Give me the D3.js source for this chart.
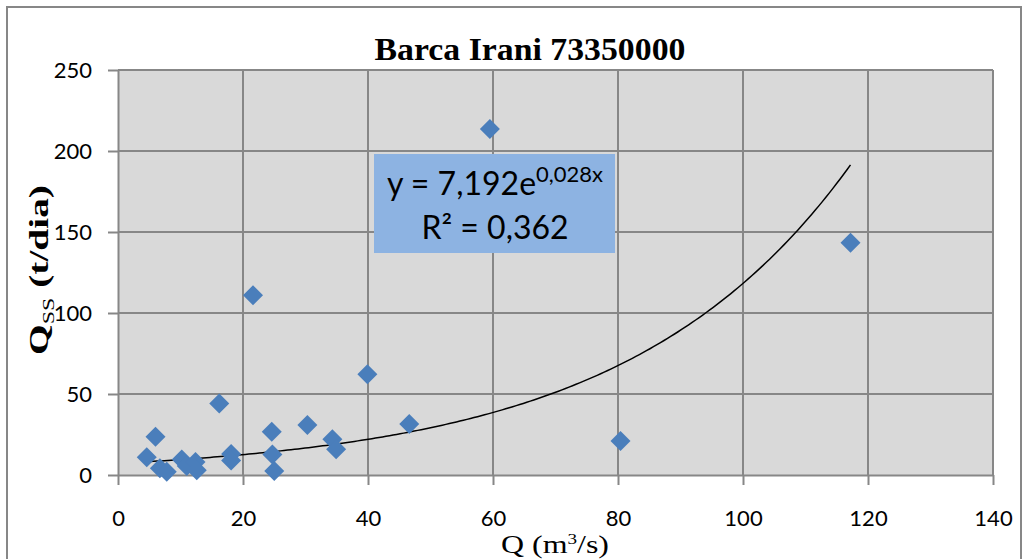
<!DOCTYPE html>
<html>
<head>
<meta charset="utf-8">
<script src="https://cdn.jsdelivr.net/npm/d3@7"></script>
<style>
  body { margin: 0; background: #ffffff; }
  svg { display: block; }
</style>
</head>
<body>
<svg id="chart" width="1030" height="559"></svg>
<script>
// ---- data ----
const chartTitle = "Barca Irani 73350000";
const dischargeQ = [4.6, 6.0, 6.7, 7.8, 10.2, 11.0, 12.4, 12.6, 16.2, 18.1, 18.1, 21.6,
                    24.6, 24.7, 25.0, 30.3, 34.3, 34.9, 39.9, 46.6, 59.5, 80.4, 117.2];
const sedimentQss = [10.9, 23.6, 4.1, 2.0, 9.5, 5.5, 8.0, 3.0, 44.2, 13.0, 9.0, 111.0,
                     26.7, 12.7, 2.5, 30.9, 22.0, 15.9, 62.2, 31.5, 213.6, 21.0, 143.4];
const xTickValues = [0, 20, 40, 60, 80, 100, 120, 140];
const yTickValues = [0, 50, 100, 150, 200, 250];
const trendA = 7.192;   // exponential trendline y = a * e^(b x)
const trendB = 0.028;
const trendR2 = 0.362;

// ---- layout ----
const svg = d3.select("#chart");
const plot = { left: 118, right: 993, top: 70, bottom: 475 };
const gridColor = "#878787";
const markerColor = "#4a7ebb";

const x = d3.scaleLinear().domain([0, 140]).range([plot.left, plot.right]);
const y = d3.scaleLinear().domain([0, 250]).range([plot.bottom, plot.top]);

const ptBr = d3.formatLocale({ decimal: ",", thousands: ".", grouping: [3], currency: ["", ""] });
const fmt3 = ptBr.format(".3f");

// outer chart border
svg.append("rect")
  .attr("x", 7).attr("y", 7).attr("width", 1014).attr("height", 620)
  .attr("fill", "#ffffff").attr("stroke", gridColor).attr("stroke-width", 2);

// plot background
svg.append("rect")
  .attr("x", plot.left).attr("y", plot.top)
  .attr("width", plot.right - plot.left).attr("height", plot.bottom - plot.top)
  .attr("fill", "#d9d9d9");

// gridlines
svg.append("g").selectAll("line").data(xTickValues.filter(d => d > 0)).join("line")
  .attr("x1", d => x(d)).attr("x2", d => x(d))
  .attr("y1", plot.top).attr("y2", plot.bottom)
  .attr("stroke", gridColor).attr("stroke-width", 2);
svg.append("g").selectAll("line").data(yTickValues.filter(d => d > 0)).join("line")
  .attr("x1", plot.left).attr("x2", plot.right)
  .attr("y1", d => y(d)).attr("y2", d => y(d))
  .attr("stroke", gridColor).attr("stroke-width", 2);

// axes
const tickFont = "Lato, 'Open Sans', sans-serif";
const yAxis = svg.append("g")
  .attr("transform", `translate(${plot.left},0)`)
  .call(d3.axisLeft(y).tickValues(yTickValues).tickSize(10).tickPadding(16).tickSizeOuter(0));
const xAxis = svg.append("g")
  .attr("transform", `translate(0,${plot.bottom})`)
  .call(d3.axisBottom(x).tickValues(xTickValues).tickSize(10).tickPadding(25).tickSizeOuter(0));
[yAxis, xAxis].forEach(g => {
  g.select(".domain").attr("stroke", gridColor).attr("stroke-width", 2);
  g.selectAll(".tick line").attr("stroke", gridColor).attr("stroke-width", 2);
  g.selectAll(".tick text").attr("fill", "#000").style("font-family", tickFont).style("font-size", "22px");
});

// trendline
const xExtent = d3.extent(dischargeQ);
const trendX = d3.range(0, 201).map(i => xExtent[0] + (xExtent[1] - xExtent[0]) * i / 200);
svg.append("path")
  .datum(trendX)
  .attr("fill", "none").attr("stroke", "#000").attr("stroke-width", 1.5)
  .attr("d", d3.line().x(d => x(d)).y(d => y(trendA * Math.exp(trendB * d))));

// data markers (diamonds)
const diamond = d3.symbol().type(d3.symbolSquare).size(200);
svg.append("g").selectAll("path").data(dischargeQ.map((q, i) => [q, sedimentQss[i]])).join("path")
  .attr("d", diamond)
  .attr("transform", d => `translate(${x(d[0])},${y(d[1])}) rotate(45)`)
  .attr("fill", markerColor);

// equation label
const eq = svg.append("g");
eq.append("rect")
  .attr("x", 374).attr("y", 154).attr("width", 241).attr("height", 99)
  .attr("fill", "#8db3e2");
const eqLine = eq.append("text")
  .attr("x", 495).attr("y", 195).attr("text-anchor", "middle")
  .style("font-family", tickFont).style("font-size", "32px").attr("fill", "#000");
eqLine.append("tspan").text(`y = ${fmt3(trendA)}e`);
eqLine.append("tspan").attr("dy", -13).style("font-size", "22px").text(`${fmt3(trendB)}x`);
eq.append("text")
  .attr("x", 495).attr("y", 239).attr("text-anchor", "middle")
  .style("font-family", tickFont).style("font-size", "32px").attr("fill", "#000")
  .text(`R² = ${fmt3(trendR2)}`);

// scale factor that stretches a text element to a given length along its reading direction
function fitLength(sel, length) {
  const w = sel.node().getBBox().width;
  return length / w;
}

// title
const serif = "'Liberation Serif', 'Times New Roman', serif";
const t = svg.append("text")
  .attr("text-anchor", "middle")
  .style("font-family", serif).style("font-weight", "bold").style("font-size", "32px")
  .attr("fill", "#000").text(chartTitle);
t.attr("transform", `translate(530,60) scale(${fitLength(t, 311)},1)`);

// x axis title
const xt = svg.append("text")
  .attr("text-anchor", "middle")
  .style("font-family", serif).style("font-size", "25px").attr("fill", "#000");
xt.append("tspan").text("Q (m");
xt.append("tspan").attr("dy", -9).style("font-size", "15px").text("3");
xt.append("tspan").attr("dy", 9).text("/s)");
xt.attr("transform", `translate(555,553) scale(${fitLength(xt, 108)},1)`);

// y axis title
const yt = svg.append("text")
  .attr("text-anchor", "middle")
  .style("font-family", serif).style("font-weight", "bold").style("font-size", "28px")
  .attr("fill", "#000");
yt.append("tspan").text("Q");
yt.append("tspan").attr("dy", 6).style("font-size", "17px").style("font-weight", "normal").text("SS");
yt.append("tspan").attr("dy", -6).text(" (t/dia)");
yt.attr("transform", `translate(48,270) rotate(-90) scale(${fitLength(yt, 170)},1)`);
</script>
</body>
</html>
